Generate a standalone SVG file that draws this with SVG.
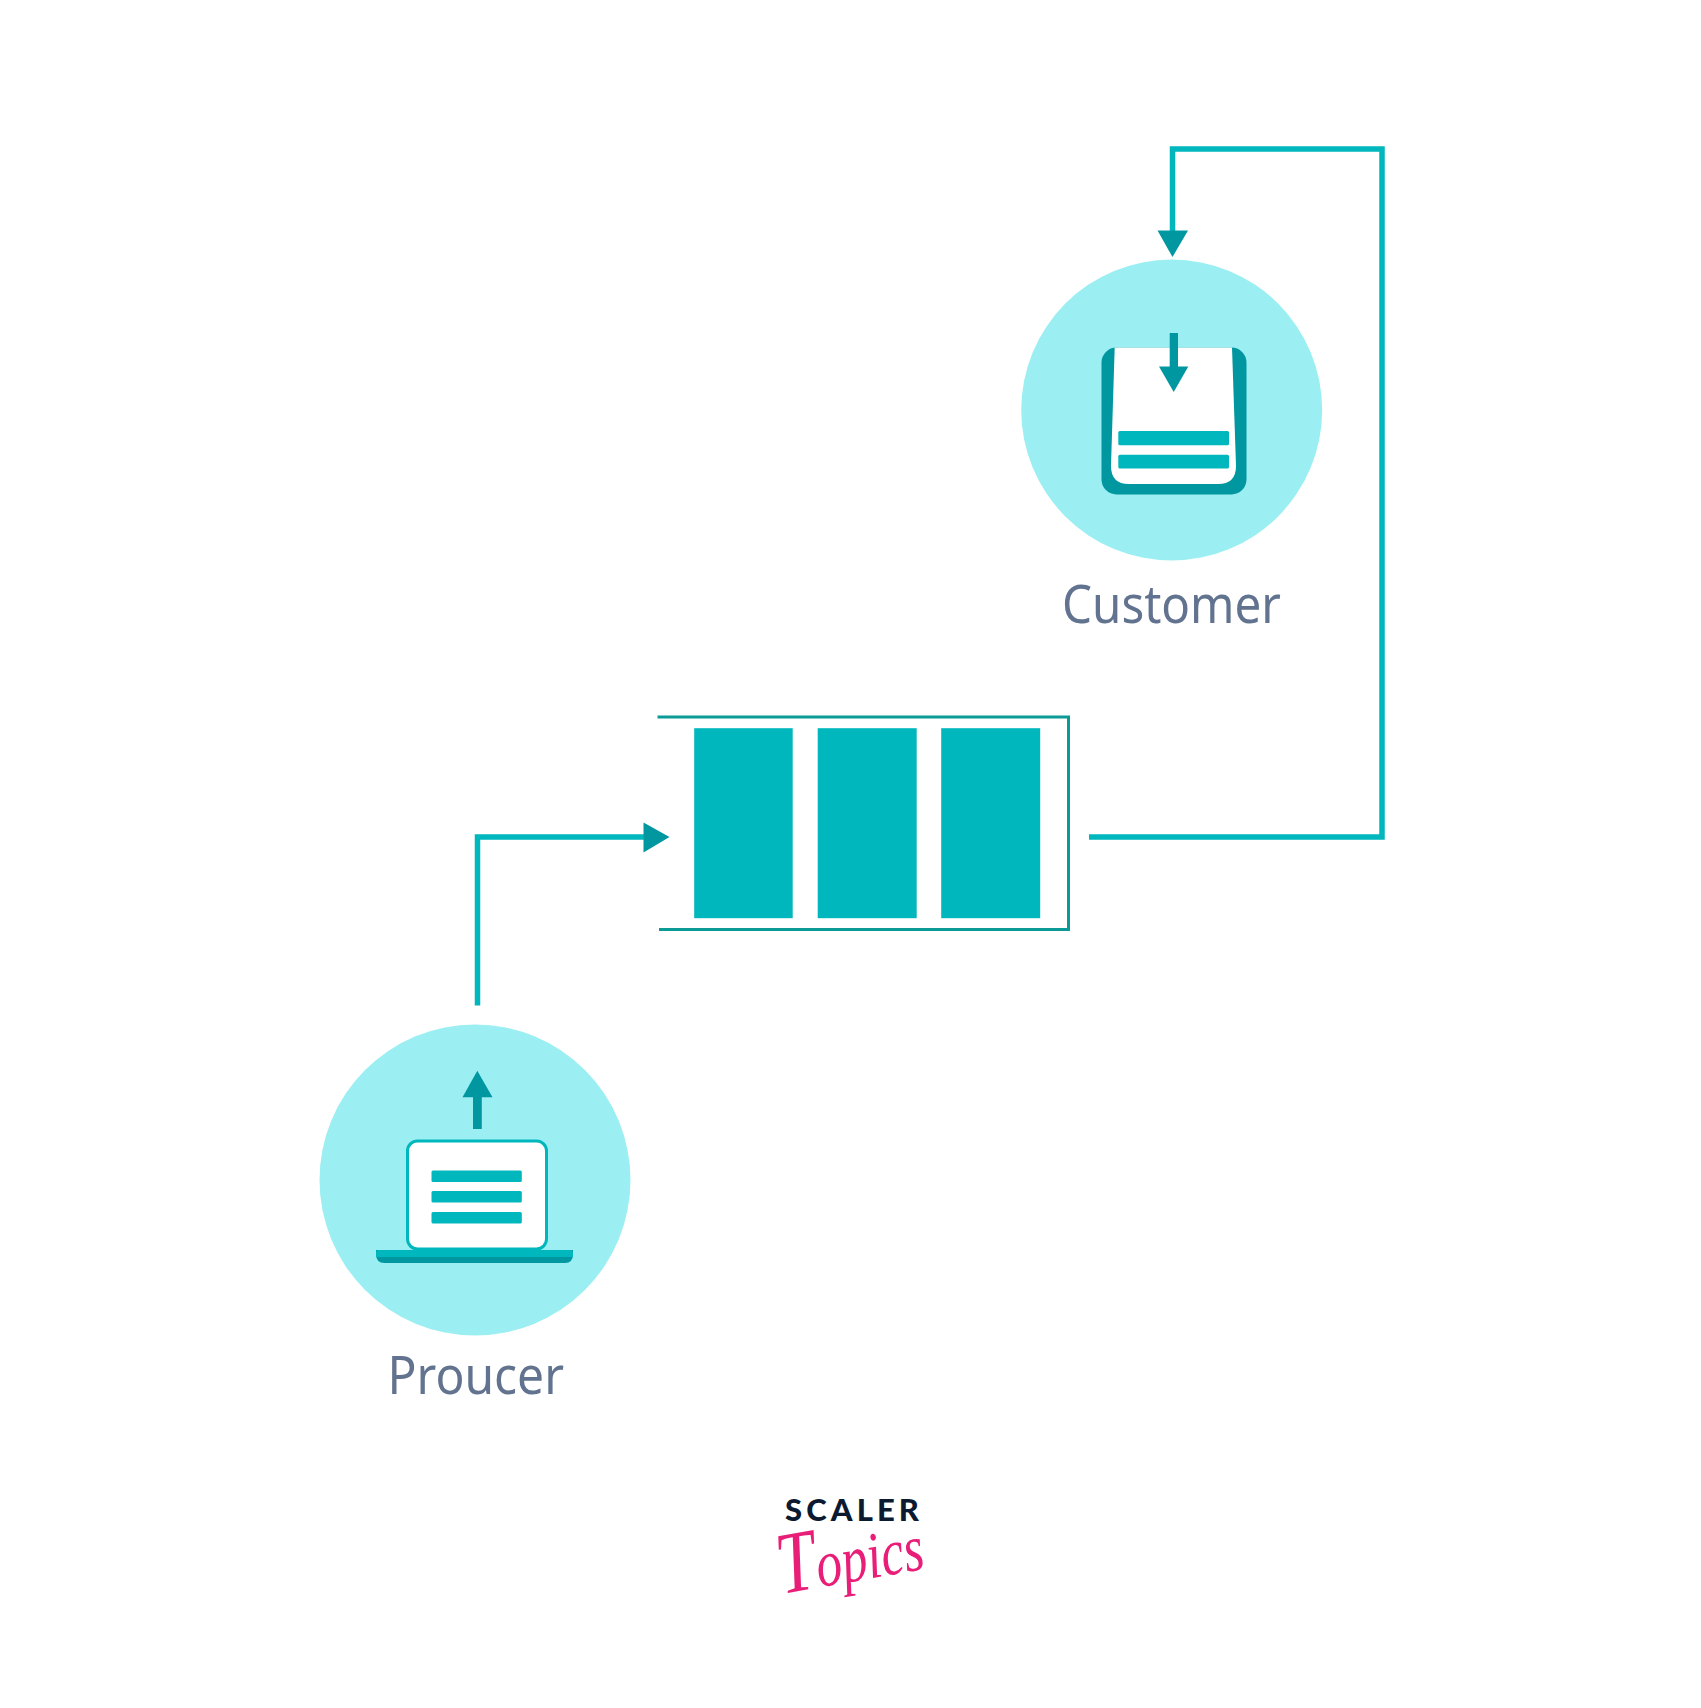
<svg xmlns="http://www.w3.org/2000/svg" width="1701" height="1708" viewBox="0 0 1701 1708">
<style>
.bubble{fill:#9BEFF2}
.teal{fill:#00B7BD}
.dark{fill:#0097A0}
.white{fill:#fff}
.conn{fill:none;stroke:#00B7BD;stroke-width:5.500}
.qline{fill:none;stroke:#0B9A96;stroke-width:3}
.label{font-family:"Noto Sans","Open Sans",sans-serif;font-size:52px;fill:#62738F}
</style>
<rect width="1701" height="1708" fill="#fff"/>
<g id="connectors">
<path class="conn" d="M477.500 1005.500V837H645"/>
<polygon class="dark" points="643.500,822.500 669.500,837 643.500,852.500"/>
<path class="conn" d="M1089 837H1382V149H1172.500V232"/>
<polygon class="dark" points="1157.500,230.500 1188,230.500 1172.500,257"/>
</g>
<g id="customer">
<circle class="bubble" cx="1171.700" cy="410" r="150.500"/>
<rect class="dark" x="1101.500" y="347.500" width="145" height="147" rx="15"/>
<path class="white" d="M1114.700 347.500H1232L1236 466Q1236 484 1218 484H1129Q1111 484 1111 466Z"/>
<rect class="dark" x="1169.700" y="333" width="8.300" height="34"/>
<polygon class="dark" points="1159,366.500 1188.300,366.500 1173.700,392"/>
<rect class="teal" x="1118.300" y="431" width="110.700" height="14.200" rx="1.500"/>
<rect class="teal" x="1118.300" y="454.800" width="110.700" height="13.800" rx="1.500"/>
<text class="label" x="1062" y="623" textLength="219" lengthAdjust="spacingAndGlyphs">Customer</text>
</g>
<g id="queue">
<path class="qline" d="M657.500 717H1068.500V929.500H659"/>
<rect class="teal" x="694.200" y="728.200" width="98.500" height="190"/>
<rect class="teal" x="817.700" y="728.200" width="99" height="190"/>
<rect class="teal" x="941.200" y="728.200" width="99" height="190"/>
</g>
<g id="producer">
<circle class="bubble" cx="475" cy="1180" r="155.500"/>
<rect class="dark" x="473" y="1096" width="8.800" height="33"/>
<polygon class="dark" points="462.500,1097.300 492.500,1097.300 477.300,1070.700"/>
<rect x="407.500" y="1141" width="139" height="108" rx="10" fill="#fff" stroke="#00B7BD" stroke-width="3"/>
<rect class="teal" x="431.500" y="1170.500" width="90.300" height="11.400" rx="1.500"/>
<rect class="teal" x="431.500" y="1191" width="90.300" height="11.400" rx="1.500"/>
<rect class="teal" x="431.500" y="1212" width="90.300" height="11.400" rx="1.500"/>
<path class="dark" d="M376 1250H573V1254Q573 1263 565 1263H384.500Q376 1263 376 1254Z"/>
<path class="teal" d="M378.500 1250H570.500Q573 1250 573 1252.500V1257H376V1252.500Q376 1250 378.500 1250Z"/>
<text class="label" x="387.500" y="1394" textLength="176.500" lengthAdjust="spacingAndGlyphs">Proucer</text>
</g>
<g id="logo">
<text x="785" y="1520.500" font-family="Lato,'Liberation Sans',sans-serif" font-weight="900" font-size="31" fill="#0B1A30" textLength="134" lengthAdjust="spacing">SCALER</text>
<text transform="translate(782 1594) rotate(-10) scale(.78 1)" font-family="'Liberation Serif',serif" font-style="italic" font-weight="400" font-size="66" fill="#E91E78"><tspan font-size="88">T</tspan>opics</text>
</g>
</svg>
